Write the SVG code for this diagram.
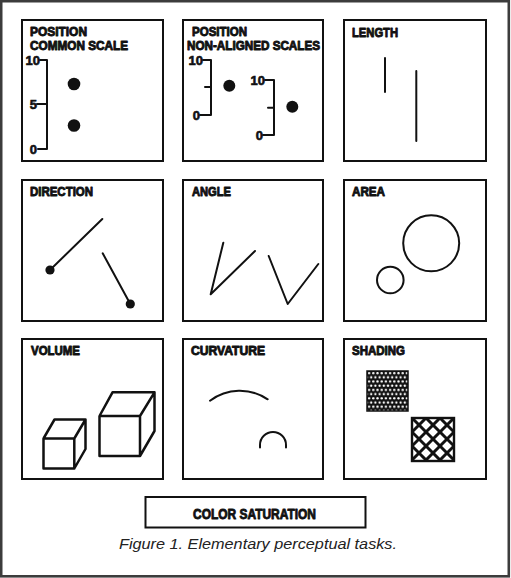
<svg xmlns="http://www.w3.org/2000/svg" width="511" height="578" viewBox="0 0 511 578">
<style>
.box{fill:#fff;stroke:#111;stroke-width:2}
.h{font-family:"Liberation Sans",Arial,sans-serif;font-weight:bold;font-size:12.5px;fill:#111;stroke:#111;stroke-width:0.9;stroke-linejoin:round}
.ax{font-family:"Liberation Sans",Arial,sans-serif;font-weight:bold;font-size:13px;fill:#111;stroke:#111;stroke-width:0.6}
.ln{fill:none;stroke:#111;stroke-width:2;stroke-linecap:round;stroke-linejoin:round}
.cube{fill:none;stroke:#111;stroke-width:2.5;stroke-linejoin:round}
.cap{font-family:"Liberation Sans",Arial,sans-serif;font-style:italic;font-size:14px;fill:#222}
</style>
<defs>
<pattern id="dots" x="367" y="371" width="4.2" height="8.4" patternUnits="userSpaceOnUse">
<rect width="4.2" height="8.4" fill="#111"/>
<circle cx="2.1" cy="2.1" r="1.2" fill="#fff"/>
<circle cx="0" cy="6.3" r="1.2" fill="#fff"/>
<circle cx="4.2" cy="6.3" r="1.2" fill="#fff"/>
</pattern>
<clipPath id="hatchclip"><rect x="412" y="418" width="42" height="43"/></clipPath>
</defs>
<rect x="1.2" y="1.2" width="507.6" height="575.1" fill="#fff" stroke="#3c3c3c" stroke-width="2.6"/>

<g id="position-common">
<rect class="box" x="22" y="20" width="141" height="141"/>
<text class="h" x="30" y="36" textLength="57" lengthAdjust="spacingAndGlyphs">POSITION</text>
<text class="h" x="30" y="50" textLength="98" lengthAdjust="spacingAndGlyphs">COMMON SCALE</text>
<path class="ln" d="M40,60 H47 V149 H38 M37,104 H47" stroke-linecap="butt"/>
<text class="ax" x="40" y="65" text-anchor="end">10</text>
<text class="ax" x="37" y="109" text-anchor="end">5</text>
<text class="ax" x="37" y="154" text-anchor="end">0</text>
<circle cx="74" cy="84" r="6.3" fill="#111"/>
<circle cx="74" cy="125.5" r="6.3" fill="#111"/>
</g>

<g id="position-nonaligned">
<rect class="box" x="183" y="20" width="140" height="141"/>
<text class="h" x="192" y="36" textLength="55" lengthAdjust="spacingAndGlyphs">POSITION</text>
<text class="h" x="187" y="50" textLength="133" lengthAdjust="spacingAndGlyphs">NON-ALIGNED SCALES</text>
<path class="ln" d="M203,60 H211 V115 H200 M205,87 H211" stroke-linecap="butt"/>
<text class="ax" x="203" y="64.5" text-anchor="end">10</text>
<text class="ax" x="200" y="119.5" text-anchor="end">0</text>
<circle cx="229.3" cy="85.7" r="6" fill="#111"/>
<path class="ln" d="M265,80 H274 V135 H263 M268,107.7 H274" stroke-linecap="butt"/>
<text class="ax" x="265" y="84.5" text-anchor="end">10</text>
<text class="ax" x="263" y="139.5" text-anchor="end">0</text>
<circle cx="292.3" cy="106.7" r="6" fill="#111"/>
</g>

<g id="length">
<rect class="box" x="344" y="20" width="142" height="141"/>
<text class="h" x="352" y="36.5" textLength="46" lengthAdjust="spacingAndGlyphs">LENGTH</text>
<path class="ln" d="M385,58 V92 M416.3,71 V141"/>
</g>

<g id="direction">
<rect class="box" x="22" y="180" width="141" height="141"/>
<text class="h" x="30" y="196" textLength="63" lengthAdjust="spacingAndGlyphs">DIRECTION</text>
<path class="ln" d="M50,270 L102.3,219 M102.7,253.3 L130.3,304"/>
<circle cx="50" cy="270" r="4.6" fill="#111"/>
<circle cx="130.3" cy="304" r="4.6" fill="#111"/>
</g>

<g id="angle">
<rect class="box" x="183" y="180" width="140" height="141"/>
<text class="h" x="192" y="196" textLength="39" lengthAdjust="spacingAndGlyphs">ANGLE</text>
<path class="ln" d="M223.3,242.7 L210.7,294.3 L255,251 M268.7,256 L287.7,304 L318.3,264"/>
</g>

<g id="area">
<rect class="box" x="344" y="180" width="142" height="141"/>
<text class="h" x="352" y="196" textLength="33" lengthAdjust="spacingAndGlyphs">AREA</text>
<circle class="ln" cx="431.2" cy="243.3" r="28"/>
<circle class="ln" cx="390.3" cy="280" r="13.3"/>
</g>

<g id="volume">
<rect class="box" x="22" y="339" width="141" height="140"/>
<text class="h" x="31" y="355" textLength="49" lengthAdjust="spacingAndGlyphs">VOLUME</text>
<path class="cube" d="M43.5,438.5 H74.3 V468.5 H43.5 Z M43.5,438.5 L54.5,419.5 H85.5 L74.3,438.5 M85.5,419.5 V449 L74.3,468.5"/>
<path class="cube" d="M99.5,416 H140 V456 H99.5 Z M99.5,416 L112.5,392.3 H154.5 L140,416 M154.5,392.3 V431 L140,456"/>
</g>

<g id="curvature">
<rect class="box" x="183" y="339" width="140" height="140"/>
<text class="h" x="191" y="355" textLength="74" lengthAdjust="spacingAndGlyphs">CURVATURE</text>
<path class="ln" d="M210,400.7 A49.4,49.4 0 0 1 267.7,399.3"/>
<path class="ln" d="M260,447.5 L260,445 A13,13 0 0 1 286,445 L286,447.5"/>
</g>

<g id="shading">
<rect class="box" x="344" y="339" width="142" height="140"/>
<text class="h" x="352" y="355" textLength="53" lengthAdjust="spacingAndGlyphs">SHADING</text>
<rect x="367" y="371" width="41" height="40" fill="url(#dots)" stroke="#111" stroke-width="1.5"/>
<g clip-path="url(#hatchclip)" stroke="#111" stroke-width="3">
<path d="M370,418 L413,461 M384,418 L427,461 M398,418 L441,461 M412,418 L455,461 M426,418 L469,461 M440,418 L483,461 M454,418 L497,461"/>
<path d="M412,418 L369,461 M426,418 L383,461 M440,418 L397,461 M454,418 L411,461 M468,418 L425,461 M482,418 L439,461 M496,418 L453,461"/>
</g>
<rect x="412" y="418" width="42" height="43" fill="none" stroke="#111" stroke-width="2.4"/>
</g>

<g id="color-saturation">
<rect class="box" x="145.5" y="497" width="220" height="30.5"/>
<text class="h" x="193" y="519" style="font-size:14.5px" textLength="123" lengthAdjust="spacingAndGlyphs">COLOR SATURATION</text>
</g>

<g id="connectors"/>

<text class="cap" x="119" y="549" textLength="278" lengthAdjust="spacingAndGlyphs">Figure 1. Elementary perceptual tasks.</text>
</svg>
